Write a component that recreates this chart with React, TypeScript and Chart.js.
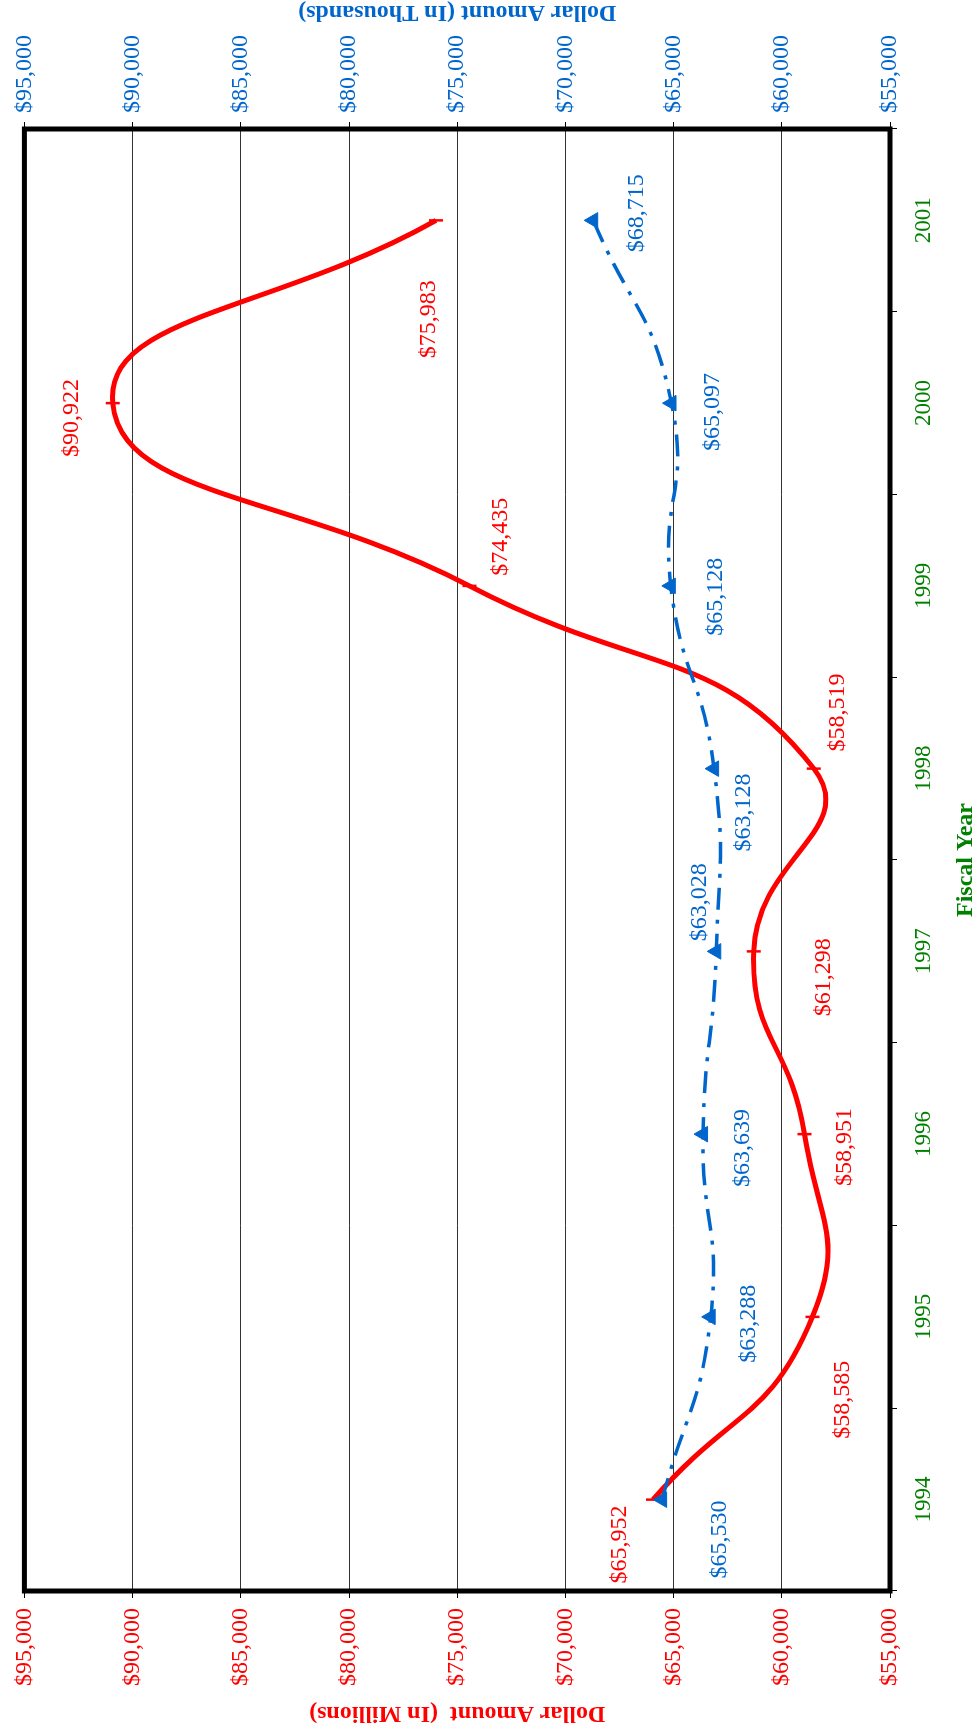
import React, { useEffect, useRef } from 'react';
import { Chart, registerables } from 'chart.js';

Chart.register(...registerables);

// ---- data ----
const years = ['1994', '1995', '1996', '1997', '1998', '1999', '2000', '2001'];
const millions = [65952, 58585, 58951, 61298, 58519, 74435, 90922, 75983];
const thousands = [65530, 63288, 63639, 63028, 63128, 65128, 65097, 68715];
const axisMin = 55000;
const axisMax = 95000;
const axisStep = 5000;

// label offsets relative to each point (landscape chart orientation, px)
const millionsLabelOffsets = [[-45, -33], [-83, 30], [-13, 40], [-26, 70], [56, 24], [49, 31], [-15, -41], [-99, -7]];
const thousandsLabelOffsets = [[-40, 58], [-7, 38], [-14, 40], [49, -17], [-44, 30], [-11, 45], [-9, 41], [7, 43]];

const RED = '#FF0000';
const BLUE = '#0066CC';
const GREEN = '#008000';
const SERIF = '"Liberation Serif", "Times New Roman", serif';

const W = 1732;
const H = 978;

const money = (v: number) => '$' + Number(v).toLocaleString('en-US');

const decorPlugin = {
  id: 'decor',
  afterDatasetsDraw(chart: any) {
    const ctx = chart.ctx as CanvasRenderingContext2D;
    const a = chart.chartArea;
    ctx.save();
    // plot border
    ctx.lineWidth = 5;
    ctx.strokeStyle = '#000';
    ctx.strokeRect(a.left, a.top, a.right - a.left, a.bottom - a.top);

    // data labels
    ctx.font = '24px ' + SERIF;
    ctx.textAlign = 'center';
    ctx.textBaseline = 'middle';
    const sets: [number, number[], number[][], string][] = [
      [0, millions, millionsLabelOffsets, RED],
      [1, thousands, thousandsLabelOffsets, BLUE],
    ];
    sets.forEach(([idx, vals, offs, col]) => {
      const meta = chart.getDatasetMeta(idx);
      ctx.fillStyle = col;
      meta.data.forEach((pt: any, j: number) => {
        ctx.fillText(money(vals[j]), pt.x + offs[j][0], pt.y + offs[j][1]);
      });
    });

    // axis titles
    const midY = (a.top + a.bottom) / 2;
    ctx.font = 'bold 24px ' + SERIF;
    const rot = (text: string, x: number, y: number, col: string) => {
      ctx.save();
      ctx.translate(x, y);
      ctx.rotate(-Math.PI / 2);
      ctx.fillStyle = col;
      ctx.fillText(text, 0, 0);
      ctx.restore();
    };
    rot('Dollar Amount  (In Millions)', a.left - 122, midY, RED);
    rot('Dollar Amount (In Thousands)', a.right + 117, midY, BLUE);
    ctx.fillStyle = GREEN;
    ctx.fillText('Fiscal Year', (a.left + a.right) / 2, a.bottom + 76);
    ctx.restore();
  },
};

export default function App() {
  const ref = useRef<HTMLCanvasElement | null>(null);

  useEffect(() => {
    if (!ref.current) return;
    const chart = new Chart(ref.current, {
      type: 'line',
      data: {
        labels: years,
        datasets: [
          {
            label: 'Dollar Amount (In Millions)',
            data: millions,
            yAxisID: 'y',
            borderColor: RED,
            backgroundColor: RED,
            borderWidth: 5,
            tension: 0.5,
            fill: false,
            pointStyle: 'line',
            pointRotation: 90,
            pointRadius: 7,
            pointBorderWidth: 2.5,
            pointBorderColor: RED,
            order: 1,
          },
          {
            label: 'Dollar Amount (In Thousands)',
            data: thousands,
            yAxisID: 'y1',
            borderColor: BLUE,
            backgroundColor: BLUE,
            borderWidth: 3.5,
            borderDash: [22, 10, 4, 10],
            tension: 0.5,
            fill: false,
            pointStyle: 'triangle',
            pointRadius: 9,
            pointBackgroundColor: BLUE,
            pointBorderColor: BLUE,
            pointBorderWidth: 1,
            order: 0,
          },
        ],
      },
      options: {
        responsive: false,
        animation: false,
        devicePixelRatio: 1,
        layout: { padding: { top: 20, left: 0, right: 0, bottom: 0 } },
        plugins: {
          legend: { display: false },
          title: { display: false },
          tooltip: { enabled: false },
        },
        scales: {
          x: {
            type: 'category',
            offset: true,
            grid: { offset: true, drawOnChartArea: false, drawTicks: true, tickLength: 7, color: '#000', lineWidth: 1 },
            border: { display: false },
            ticks: { color: GREEN, font: { family: SERIF, size: 23 }, padding: 13, maxRotation: 0, autoSkip: false },
            afterFit: (s: any) => { s.height = 88; },
          },
          y: {
            position: 'left',
            min: axisMin,
            max: axisMax,
            ticks: {
              stepSize: axisStep,
              color: RED,
              font: { family: SERIF, size: 24 },
              padding: 10,
              callback: (v: any) => money(v),
            },
            grid: { color: 'rgba(0,0,0,0.8)', lineWidth: 1, tickLength: 7, drawTicks: true, tickColor: '#000' },
            border: { display: false },
            afterFit: (s: any) => { s.width = 141; },
          },
          y1: {
            position: 'right',
            min: axisMin,
            max: axisMax,
            ticks: {
              stepSize: axisStep,
              color: BLUE,
              font: { family: SERIF, size: 24 },
              padding: 9,
              callback: (v: any) => money(v),
            },
            grid: { drawOnChartArea: false, tickLength: 7, drawTicks: true, color: '#000', tickColor: '#000' },
            border: { display: false },
            afterFit: (s: any) => { s.width = 129; },
          },
        },
      } as any,
      plugins: [decorPlugin],
    });
    return () => chart.destroy();
  }, []);

  return (
    <div style={{ position: 'absolute', left: 0, top: 0, width: H, height: W, overflow: 'hidden', background: '#fff' }}>
      <div
        style={{
          position: 'absolute',
          left: 0,
          top: 0,
          width: W,
          height: H,
          transformOrigin: '0 0',
          transform: `translateY(${W}px) rotate(-90deg)`,
        }}
      >
        <canvas ref={ref} width={W} height={H} style={{ width: W, height: H, display: 'block' }} />
      </div>
    </div>
  );
}
